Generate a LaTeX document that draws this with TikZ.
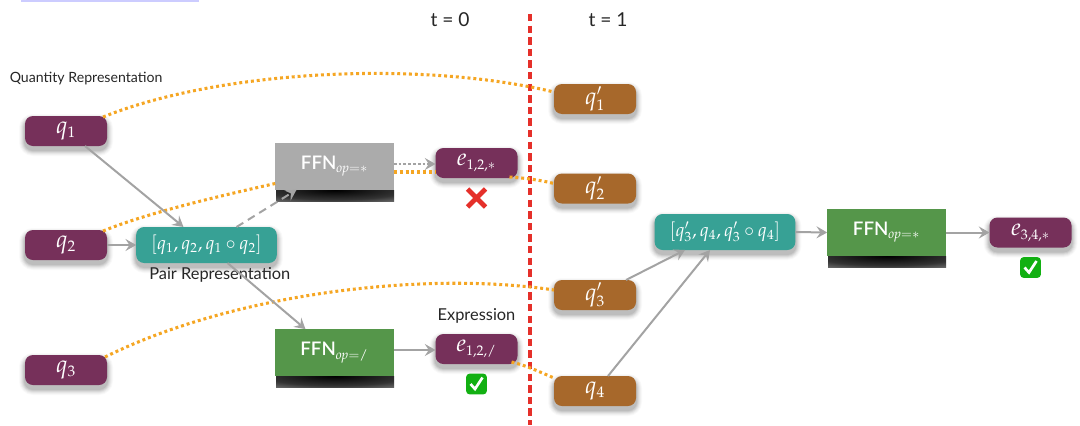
\documentclass[tikz,border=0pt]{standalone}
\usepackage[no-math]{fontspec}
\usepackage{mathpazo}
\setmainfont{Lato}
\newfontfamily\ffnfont{Lato Semibold}
\DeclareMathSizes{18}{18}{11.5}{8}
\DeclareMathSizes{14}{14}{10}{7}
\usetikzlibrary{arrows.meta,calc}
\definecolor{plum}{HTML}{76305A}
\definecolor{tealb}{HTML}{37A195}
\definecolor{brownb}{HTML}{A7682B}
\definecolor{greenb}{HTML}{55964A}
\definecolor{grayb}{HTML}{ABABAB}
\definecolor{orangel}{HTML}{F5A623}
\definecolor{arrowg}{HTML}{A3A3A3}
\definecolor{redl}{HTML}{E5302A}
\definecolor{checkg}{HTML}{12B012}
\pgfdeclareradialshading{ffnshadow}{\pgfpointorigin}{color(0bp)=(black); color(20bp)=(black!80!white); color(38bp)=(black!40!white); color(50bp)=(white)}
\tikzset{
  sh/.style 2 args={preaction={draw=black!#2,fill=black!#2,line width=#1,transform canvas={yshift=-3pt}}},
  softshadow/.style={sh={9pt}{2},sh={7.5pt}{5},sh={6pt}{9},sh={4.5pt}{14},sh={3pt}{20},sh={1.5pt}{26}},
  rbox/.style={softshadow,rounded corners=6pt,inner sep=0pt,outer sep=0pt,text=white,font=\fontsize{18}{18}\selectfont},
  qbox/.style={rbox,fill=plum,minimum width=61.5pt,minimum height=22.5pt},
  bbox/.style={rbox,fill=brownb,minimum width=61.5pt,minimum height=22.5pt},
  pairbox/.style={rbox,fill=tealb,minimum width=105.5pt,minimum height=27pt,font=\fontsize{14}{14}\selectfont},
  ffnbox/.style={inner sep=0pt,outer sep=0pt,text=white,minimum width=89pt,minimum height=35pt,font=\fontsize{14}{14}\selectfont\ffnfont},
  conn/.style={draw=arrowg,line width=1.5pt,-{Stealth[length=8pt,width=9pt,inset=3pt]}},
  dots/.style={draw=orangel,line width=2.3pt,dash pattern=on 2.2pt off 2.2pt},
  checkb/.style={fill=checkg,rounded corners=2.5pt,inner sep=0pt,minimum size=15.5pt},
  checkm/.style={draw=white,line width=2pt},
  labq/.style={inner sep=0pt,text=black!85,font=\fontsize{10.6}{12}\selectfont},
  lab/.style={inner sep=0pt,text=black!85,font=\fontsize{12.3}{14}\selectfont},
  labt/.style={inner sep=0pt,text=black!85,font=\fontsize{14.4}{16}\selectfont},
}
\newcommand{\ffnshadow}[3]{%
  \begin{scope}
    \clip (#1,#3) rectangle (#2,#3+11);
    \path[shading=ffnshadow] ({(#1+#2)/2-85},#3-12) rectangle ({(#1+#2)/2+85},#3+12);
  \end{scope}}
\newcommand{\ffnlabel}[1]{FFN$_{\mathit{op}{=}#1}$}
\newcommand{\exprlabel}[1]{$e_{\mbox{\fontsize{10.5}{10.5}\selectfont$#1$}}$}
\begin{document}
\begin{tikzpicture}[x=0.75pt,y=-0.75pt]
\useasboundingbox (0,0) rectangle (1080,425);
\fill[blue!20!white] (21,0) rectangle (199,1.6);

% FFN shadows
\ffnshadow{276}{394}{190}
\ffnshadow{276}{394}{376}
\ffnshadow{828}{946}{256}

% Nodes
\node[qbox] (q1) at (66,131) {$q_1$};
\node[qbox] (q2) at (66,245) {$q_2$};
\node[qbox] (q3) at (66,370) {$q_3$};
\node[pairbox] (pair) at (206.5,245) {$[q_1,q_2,q_1\circ q_2]$};
\node[ffnbox,fill=grayb] (ffnmul) at (334.5,166.5) {\ffnlabel{*}};
\node[ffnbox,fill=greenb] (ffndiv) at (334.5,352.5) {\ffnlabel{/}};
\node[qbox] (emul) at (476.5,163) {\exprlabel{1{,}2{,}*}};
\node[qbox] (ediv) at (476.5,349) {\exprlabel{1{,}2{,}/}};
\node[bbox] (qa) at (595,99) {$q_1'$};
\node[bbox] (qb) at (595,188.5) {$q_2'$};
\node[bbox] (qc) at (595,295) {$q_3'$};
\node[bbox] (qd) at (595,391) {$q_4$};
\node[pairbox] (pairb) at (725,232) {$[q_3',q_4,q_3'\circ q_4]$};
\node[ffnbox,fill=greenb] (ffnb) at (886.5,232.5) {\ffnlabel{*}};
\node[qbox] (eb) at (1030.5,232.5) {\exprlabel{3{,}4{,}*}};

% Labels
\node[labq,anchor=west] (lq) at (9.5,79) {Quantity Representation};
\node[lab,anchor=west] (lp) at (149,275) {Pair Representation};
\node[lab] (le) at (476.5,316) {Expression};
\node[labt] (t0) at (450,20) {t = 0};
\node[labt] (t1) at (608,20) {t = 1};

% Marks
\coordinate (xc) at (476.5,198);
\draw[redl,line width=3.6pt] ($(xc)+(-9,-9)$) -- ($(xc)+(9,9)$) ($(xc)+(-9,9)$) -- ($(xc)+(9,-9)$);
\node[checkb] (ck1) at (476.5,384) {};
\draw[checkm] ($(ck1)+(-6,0)$) -- ($(ck1)+(-1.5,5)$) -- ($(ck1)+(6,-6.5)$);
\node[checkb] (ck2) at (1030.5,267.5) {};
\draw[checkm] ($(ck2)+(-6,0)$) -- ($(ck2)+(-1.5,5)$) -- ($(ck2)+(6,-6.5)$);

% Time divider
\coordinate (rt) at (530,14);
\coordinate (rb) at (530,425);
\draw[redl,line width=2.8pt,dash pattern=on 5.5pt off 3.2pt] (rt) -- (rb);

% Orange dotted links
\draw[dots] ($(q1.east)+(-4,-14)$) .. controls (220,70) and (420,60) .. ($(qa.west)+(0,-7)$);
\draw[dots] ($(q2.east)+(-4,-14)$) .. controls (150,212) and (220,196) .. ($(ffnmul.west)+(0,17)$);
\draw[dots] ($(ffnmul.east)+(0,5.5)$) -- ($(emul.west)+(0,9)$);
\draw[dots] ($(emul.east)+(-8,14)$) .. controls (525,178) and (540,180) .. ($(qb.west)+(0,-5)$);
\draw[dots] ($(q3.east)+(-2,-13)$) .. controls (230,295) and (420,270) .. ($(qc.west)+(0,-5)$);
\draw[dots] ($(ediv.east)+(-6,13)$) .. controls (525,365) and (540,372) .. ($(qd.west)+(0,-13)$);

% Grey connectors
\draw[conn] ($(q1.south)+(19,0)$) -- ($(pair.north)+(-23,0)$);
\draw[conn] (q2.east) -- (pair.west);
\draw[conn,dash pattern=on 6pt off 4pt] ($(pair.north)+(30,0)$) -- ($(ffnmul.south)+(-38,0)$);
\draw[conn] ($(pair.south)+(21,0)$) -- ($(ffndiv.north)+(-29,0)$);
\draw[conn,dash pattern=on 2pt off 1.6pt] ($(ffnmul.east)+(0,-2.5)$) -- ($(emul.west)+(0,1)$);
\draw[conn] ($(ffndiv.east)+(0,-2.5)$) -- ($(ediv.west)+(0,1)$);
\draw[conn] ($(qc.north)+(31,0)$) -- ($(pairb.south)+(-40,0)$);
\draw[conn] ($(qd.north)+(13,0)$) -- ($(pairb.south)+(-15,0)$);
\draw[conn] (pairb.east) -- (ffnb.west);
\draw[conn] (ffnb.east) -- (eb.west);
\end{tikzpicture}
\end{document}
